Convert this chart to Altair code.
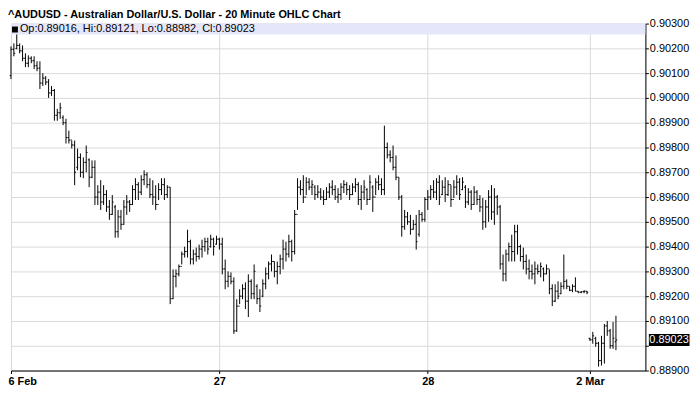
import altair as alt
import pandas as pd

FONT = "Liberation Sans"
TITLE = "^AUDUSD - Australian Dollar/U.S. Dollar - 20 Minute OHLC Chart"

# bar index of the first bar of each day, and the day labels
DAY_TICKS = [0, 72, 144, 200]
DAY_LABELS = ["6 Feb", "27", "28", "2 Mar"]
Y_TICKS = [0.889, 0.890, 0.891, 0.892, 0.893, 0.894, 0.895, 0.896,
           0.897, 0.898, 0.899, 0.900, 0.901, 0.902, 0.903]

# 20-minute OHLC values, in 1/100000 of a US dollar
OPEN = [
    90090, 90196, 90200, 90212, 90190, 90160, 90140, 90160, 90150, 90130,
    90120, 90060, 90080, 90064, 90020, 90030, 89930, 89940, 89920, 89900,
    89840, 89830, 89810, 89720, 89760, 89700, 89740, 89750, 89680, 89720,
    89600, 89620, 89580, 89610, 89560, 89530, 89560, 89460, 89520, 89490,
    89560, 89580, 89570, 89630, 89650, 89620, 89670, 89690, 89650, 89610,
    89600, 89570, 89630, 89650, 89610, 89640, 89190, 89280, 89290, 89320,
    89370, 89380, 89420, 89350, 89370, 89360, 89390, 89400, 89420, 89400,
    89430, 89410, 89430, 89410, 89310, 89260, 89280, 89260, 89060, 89160,
    89200, 89230, 89180, 89260, 89210, 89240, 89190, 89200, 89250, 89290,
    89330, 89340, 89300, 89320, 89350, 89390, 89370, 89420, 89380, 89530,
    89640, 89630, 89600, 89660, 89640, 89640, 89610, 89620, 89600, 89590,
    89620, 89640, 89630, 89600, 89610, 89640, 89650, 89630, 89610, 89640,
    89650, 89590, 89620, 89630, 89590, 89640, 89600, 89660, 89650, 89630,
    89800, 89770, 89760, 89720, 89680, 89600, 89480, 89520, 89500, 89470,
    89490, 89450, 89530, 89510, 89590, 89600, 89630, 89620, 89660, 89610,
    89640, 89610, 89650, 89590, 89640, 89660, 89630, 89640, 89580, 89620,
    89570, 89620, 89590, 89560, 89500, 89560, 89600, 89540, 89600, 89560,
    89330, 89290, 89370, 89400, 89380, 89460, 89400, 89360, 89340, 89310,
    89300, 89290, 89310, 89300, 89310, 89290, 89310, 89230, 89180, 89220,
    89210, 89240, 89260, 89240, 89224, 89240, 89220, 89216, 89218, 89220,
    89030, 89024, 89030, 89010, 88940, 89010, 89080, 89060, 89000, 89016,
]
HIGH = [
    90208, 90220, 90256, 90220, 90212, 90180, 90172, 90168, 90168, 90148,
    90148, 90100, 90088, 90076, 90048, 90036, 89956, 89980, 89930, 89916,
    89868, 89828, 89828, 89796, 89776, 89760, 89808, 89756, 89748, 89748,
    89648, 89668, 89648, 89628, 89588, 89608, 89568, 89548, 89548, 89588,
    89608, 89588, 89648, 89676, 89660, 89688, 89708, 89700, 89676, 89668,
    89648, 89656, 89676, 89676, 89648, 89640, 89308, 89308, 89328, 89380,
    89400, 89468, 89428, 89388, 89396, 89408, 89428, 89436, 89436, 89448,
    89436, 89444, 89436, 89436, 89348, 89300, 89296, 89276, 89188, 89228,
    89248, 89256, 89288, 89268, 89328, 89248, 89228, 89268, 89316, 89340,
    89368, 89340, 89340, 89368, 89428, 89420, 89448, 89428, 89548, 89676,
    89668, 89688, 89680, 89676, 89668, 89648, 89648, 89636, 89628, 89640,
    89656, 89668, 89648, 89636, 89656, 89668, 89660, 89648, 89656, 89676,
    89660, 89648, 89668, 89636, 89688, 89648, 89676, 89688, 89676, 89888,
    89820, 89788, 89808, 89768, 89680, 89608, 89548, 89540, 89528, 89508,
    89528, 89548, 89540, 89600, 89628, 89648, 89668, 89676, 89688, 89668,
    89680, 89668, 89648, 89668, 89688, 89676, 89680, 89648, 89636, 89628,
    89644, 89628, 89608, 89596, 89588, 89628, 89648, 89636, 89608, 89568,
    89368, 89388, 89416, 89448, 89488, 89488, 89408, 89396, 89368, 89348,
    89328, 89340, 89328, 89336, 89316, 89328, 89308, 89248, 89248, 89260,
    89256, 89368, 89268, 89240, 89248, 89276, 89220, 89220, 89224, 89220,
    89032, 89056, 89036, 89016, 89040, 89088, 89100, 89068, 89096, 89121,
]
LOW = [
    90076, 90168, 90196, 90180, 90148, 90124, 90124, 90140, 90116, 90108,
    90036, 90048, 90052, 90000, 90008, 89908, 89908, 89916, 89890, 89816,
    89816, 89796, 89648, 89708, 89680, 89676, 89700, 89640, 89676, 89568,
    89568, 89548, 89568, 89540, 89508, 89528, 89436, 89436, 89468, 89488,
    89528, 89540, 89568, 89588, 89588, 89608, 89648, 89636, 89596, 89568,
    89548, 89588, 89608, 89588, 89596, 89168, 89188, 89236, 89280, 89328,
    89356, 89356, 89328, 89328, 89340, 89348, 89356, 89380, 89368, 89396,
    89364, 89408, 89388, 89288, 89228, 89236, 89248, 89048, 89056, 89168,
    89188, 89148, 89116, 89188, 89188, 89168, 89136, 89196, 89228, 89268,
    89300, 89276, 89248, 89288, 89308, 89340, 89356, 89340, 89368, 89548,
    89608, 89576, 89608, 89628, 89608, 89588, 89596, 89588, 89568, 89588,
    89596, 89608, 89588, 89576, 89588, 89616, 89608, 89588, 89608, 89620,
    89568, 89548, 89588, 89568, 89588, 89540, 89608, 89628, 89608, 89608,
    89756, 89740, 89708, 89668, 89588, 89440, 89468, 89488, 89448, 89468,
    89388, 89440, 89500, 89500, 89548, 89588, 89596, 89588, 89568, 89608,
    89580, 89604, 89560, 89596, 89608, 89588, 89628, 89556, 89568, 89548,
    89568, 89568, 89540, 89468, 89476, 89500, 89508, 89488, 89528, 89308,
    89260, 89260, 89340, 89340, 89340, 89368, 89340, 89308, 89288, 89268,
    89268, 89248, 89288, 89276, 89260, 89288, 89208, 89160, 89176, 89188,
    89208, 89228, 89228, 89220, 89216, 89220, 89212, 89212, 89212, 89208,
    89020, 89008, 88996, 88916, 88920, 88928, 89040, 88988, 88988, 88982,
]
CLOSE = [
    90196, 90180, 90212, 90190, 90160, 90140, 90160, 90150, 90130, 90120,
    90060, 90080, 90064, 90020, 90030, 89930, 89940, 89960, 89900, 89840,
    89830, 89810, 89700, 89760, 89700, 89740, 89780, 89680, 89720, 89600,
    89620, 89580, 89610, 89560, 89530, 89580, 89460, 89520, 89490, 89560,
    89580, 89570, 89630, 89650, 89620, 89670, 89690, 89650, 89610, 89600,
    89570, 89630, 89650, 89610, 89640, 89190, 89280, 89290, 89320, 89370,
    89380, 89420, 89350, 89370, 89360, 89390, 89400, 89420, 89390, 89430,
    89400, 89430, 89410, 89310, 89260, 89280, 89260, 89060, 89160, 89200,
    89230, 89180, 89260, 89210, 89300, 89190, 89160, 89250, 89290, 89330,
    89340, 89300, 89320, 89350, 89390, 89370, 89420, 89380, 89530, 89640,
    89630, 89600, 89660, 89640, 89650, 89610, 89620, 89600, 89590, 89620,
    89640, 89630, 89600, 89610, 89640, 89650, 89630, 89610, 89640, 89650,
    89590, 89620, 89640, 89590, 89660, 89600, 89660, 89650, 89630, 89800,
    89770, 89760, 89720, 89680, 89600, 89480, 89520, 89500, 89470, 89490,
    89420, 89530, 89510, 89590, 89600, 89630, 89620, 89660, 89600, 89640,
    89610, 89650, 89590, 89640, 89660, 89610, 89660, 89580, 89620, 89570,
    89620, 89590, 89560, 89500, 89560, 89600, 89540, 89600, 89560, 89330,
    89290, 89370, 89400, 89380, 89460, 89400, 89360, 89340, 89310, 89300,
    89290, 89310, 89300, 89320, 89290, 89310, 89230, 89180, 89220, 89200,
    89240, 89260, 89240, 89224, 89240, 89220, 89216, 89218, 89220, 89216,
    89024, 89040, 89010, 88940, 89010, 89080, 89060, 89000, 89030, 89023,
]

SCALE = 100000.0
n = len(CLOSE)
df = pd.DataFrame({
    "i": list(range(n)),
    "open": [v / SCALE for v in OPEN],
    "high": [v / SCALE for v in HIGH],
    "low": [v / SCALE for v in LOW],
    "close": [v / SCALE for v in CLOSE],
})
df["xl"] = df["i"] - 0.45
df["xr"] = df["i"] + 0.45

last = df.iloc[-1]
legend_text = "Op:{:.5f}, Hi:{:.5f}, Lo:{:.5f}, Cl:{:.5f}".format(
    last["open"], last["high"], last["low"], last["close"])
last_close = float(last["close"])
last_df = pd.DataFrame({"close": [last_close], "label": ["{:.5f}".format(last_close)]})
one = pd.DataFrame({"k": [0]})

x_label_expr = " : ".join(
    "datum.value == {} ? '{}'".format(v, t) for v, t in zip(DAY_TICKS, DAY_LABELS)
) + " : ''"
# the price box of the last close covers the label of the grid line next to it
y_label_expr = "abs(datum.value - {}) < 0.0004 ? '' : format(datum.value, '.5f')".format(last_close)

xscale = alt.Scale(domain=[0, 219.18], nice=False, zero=False)
yscale = alt.Scale(domain=[0.889, 0.903], nice=False, zero=False)

x_axis = alt.Axis(values=DAY_TICKS, labelExpr=x_label_expr, grid=True, gridColor="#dadada",
                  gridWidth=1, domainColor="black", tickColor="black", tickSize=3,
                  labelFont=FONT, labelFontSize=11, labelFontWeight="bold",
                  labelColor="black", labelPadding=2, labelFlush=True,
                  labelFlushOffset=3, title=None)
y_axis = alt.Axis(orient="right", values=Y_TICKS, labelExpr=y_label_expr, grid=True,
                  gridColor="#dadada", gridWidth=1, domainColor="black",
                  tickColor="black", tickSize=3, labelFont=FONT, labelFontSize=11,
                  labelColor="black", labelPadding=1, title=None)


def X(field):
    return alt.X(field, type="quantitative", scale=xscale, axis=x_axis, title=None)


def Y(field):
    return alt.Y(field, type="quantitative", scale=yscale, axis=y_axis, title=None)


band = alt.Chart(one).mark_rect(color="#e6e6fa").encode(
    x=alt.value(0), x2=alt.value(640), y=alt.value(0), y2=alt.value(11))

hl = alt.Chart(df).mark_rule(color="black", strokeWidth=1).encode(
    x=X("i"), y=Y("low"), y2="high")
op = alt.Chart(df).mark_rule(color="black", strokeWidth=1).encode(
    x=X("xl"), x2="i", y=Y("open"))
cl = alt.Chart(df).mark_rule(color="black", strokeWidth=1).encode(
    x=X("i"), x2="xr", y=Y("close"))

square = alt.Chart(one).mark_rect(color="black").encode(
    x=alt.value(1), x2=alt.value(7), y=alt.value(3), y2=alt.value(9))
legend = alt.Chart(one).mark_text(align="left", baseline="middle", font=FONT,
                                  fontSize=11, color="black").encode(
    x=alt.value(9), y=alt.value(6), text=alt.value(legend_text))
title = alt.Chart(one).mark_text(align="left", baseline="middle", font=FONT,
                                 fontSize=11, fontWeight="bold", color="black").encode(
    x=alt.value(-3), y=alt.value(-9), text=alt.value(TITLE))

box = alt.Chart(last_df).mark_tick(orient="horizontal", thickness=12, size=41,
                                   color="black", opacity=1).encode(
    x=alt.value(664), y=Y("close"))
box_text = alt.Chart(last_df).mark_text(align="left", baseline="middle", font=FONT,
                                        fontSize=11, color="white").encode(
    x=alt.value(644), y=Y("close"), text="label:N")

chart = alt.layer(band, hl, op, cl, square, legend, title, box, box_text).properties(
    width=640, height=350,
    autosize=alt.AutoSizeParams(type="none"),
    padding={"left": 3, "top": 14, "right": 47, "bottom": 26},
).configure_view(stroke=None).configure(font=FONT)

chart.save("out.html", embed_options={"renderer": "svg", "actions": False})
